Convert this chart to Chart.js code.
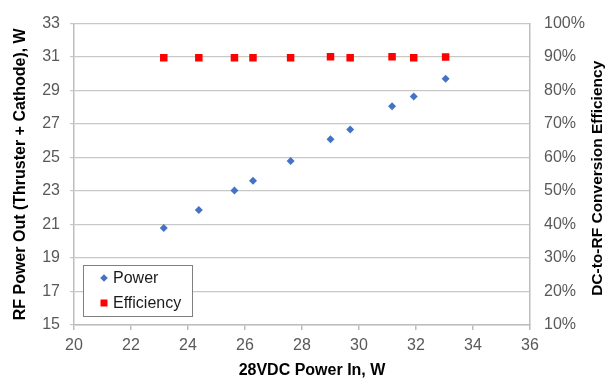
<!DOCTYPE html>
<html>
<head>
<meta charset="utf-8">
<script src="https://cdn.jsdelivr.net/npm/chart.js@4"></script>
<style>
html,body{margin:0;padding:0;background:#fff;}
#wrap{width:605px;height:381px;position:relative;}
</style>
</head>
<body>
<div id="wrap"><canvas id="c"></canvas></div>
<script>
// Data
const powerIn = [23.15, 24.38, 25.63, 26.28, 27.6, 29.0, 29.69, 31.16, 31.92, 33.04];
const rfPowerOut = [20.8, 21.87, 23.03, 23.62, 24.8, 26.09, 26.67, 28.06, 28.64, 29.7];
const efficiencyPct = [89.8, 89.8, 89.8, 89.8, 89.8, 90.1, 89.8, 90.1, 89.8, 90.0];
const seriesNames = ['Power', 'Efficiency'];
const xTitle = '28VDC Power In, W';
const yTitle = 'RF Power Out (Thruster + Cathode), W';
const y2Title = 'DC-to-RF Conversion Efficiency';

const FONT = "'Liberation Sans', Arial, sans-serif";
const TICK_COLOR = '#595959';
const GRID = '#c8c8c8';
const AXIS = '#bdbdbd';

const overlay = {
  id: 'overlay',
  afterDraw(chart) {
    const ctx = chart.ctx;
    const ca = chart.chartArea;
    ctx.save();
    // bottom title
    ctx.fillStyle = '#000';
    ctx.font = "bold 16px " + FONT;
    ctx.textAlign = 'center';
    ctx.textBaseline = 'middle';
    ctx.fillText(xTitle, (ca.left + ca.right) / 2 + 10, 371);
    // right title (reads bottom to top)
    ctx.save();
    ctx.translate(598, (ca.top + ca.bottom) / 2 + 4);
    ctx.rotate(-Math.PI / 2);
    ctx.font = "bold 15.5px " + FONT;
    ctx.fillText(y2Title, 0, 0);
    ctx.restore();
    // legend box
    const bx = ca.left + 9, by = ca.bottom - 60, bw = 109, bh = 51;
    ctx.fillStyle = '#fff';
    ctx.fillRect(bx, by, bw, bh);
    ctx.strokeStyle = '#808080';
    ctx.lineWidth = 1;
    ctx.strokeRect(bx + 0.5, by + 0.5, bw, bh);
    const ds = chart.data.datasets;
    ctx.font = "16px " + FONT;
    ctx.textAlign = 'left';
    ctx.textBaseline = 'middle';
    const rows = [by + 13, by + 38];
    ds.forEach((d, i) => {
      const cy = rows[i];
      const mx = bx + 21;
      ctx.fillStyle = d.backgroundColor;
      ctx.beginPath();
      if (d.pointStyle === 'rectRot') {
        ctx.moveTo(mx, cy - 3.8); ctx.lineTo(mx + 3.8, cy); ctx.lineTo(mx, cy + 3.8); ctx.lineTo(mx - 3.8, cy);
        ctx.closePath();
      } else {
        ctx.rect(mx - 3.5, cy - 3.5, 7, 7);
      }
      ctx.fill();
      ctx.fillStyle = '#1a1a1a';
      ctx.fillText(d.label, bx + 30, cy + 1);
    });
    ctx.restore();
  }
};

new Chart(document.getElementById('c'), {
  type: 'scatter',
  data: {
    datasets: [
      {
        label: seriesNames[0],
        data: powerIn.map((x, i) => ({x: x, y: rfPowerOut[i]})),
        yAxisID: 'y',
        pointStyle: 'rectRot',
        pointRadius: 4,
        pointHoverRadius: 4,
        borderWidth: 0,
        backgroundColor: '#4472C4',
        borderColor: '#4472C4'
      },
      {
        label: seriesNames[1],
        data: powerIn.map((x, i) => ({x: x, y: efficiencyPct[i]})),
        yAxisID: 'y2',
        pointStyle: 'rect',
        pointRadius: 5.3,
        pointHoverRadius: 5.3,
        borderWidth: 0,
        backgroundColor: '#FF0000',
        borderColor: '#FF0000'
      }
    ]
  },
  options: {
    responsive: true,
    maintainAspectRatio: false,
    animation: false,
    layout: {padding: {top: 14, left: 0, right: 0, bottom: 0}},
    plugins: {legend: {display: false}, tooltip: {enabled: false}},
    scales: {
      x: {
        type: 'linear',
        min: 20, max: 36,
        ticks: {stepSize: 2, color: TICK_COLOR, font: {family: FONT, size: 16}, padding: 6},
        grid: {drawOnChartArea: false, drawTicks: true, tickLength: 5, color: AXIS, lineWidth: 1.5},
        border: {display: true, color: AXIS, width: 1.5},
        afterFit(s) { s.height = 56; }
      },
      y: {
        position: 'left',
        min: 15, max: 33,
        ticks: {stepSize: 2, color: TICK_COLOR, font: {family: FONT, size: 16}, padding: 10},
        grid: {color: GRID, tickLength: 4, drawTicks: true, lineWidth: 1.2},
        border: {display: true, color: AXIS, width: 1.5},
        title: {display: true, text: yTitle, color: '#000', font: {family: FONT, size: 16, weight: 'bold'}, padding: {top: 11, bottom: 0}},
        afterFit(s) { s.width = 74; }
      },
      y2: {
        position: 'right',
        min: 10, max: 100,
        ticks: {stepSize: 10, color: TICK_COLOR, font: {family: FONT, size: 16}, padding: 14, callback: v => v + '%'},
        grid: {drawOnChartArea: false, drawTicks: false},
        border: {display: true, color: AXIS, width: 1.5},
        afterFit(s) { s.width = 75; }
      }
    }
  },
  plugins: [overlay]
});
</script>
</body>
</html>
